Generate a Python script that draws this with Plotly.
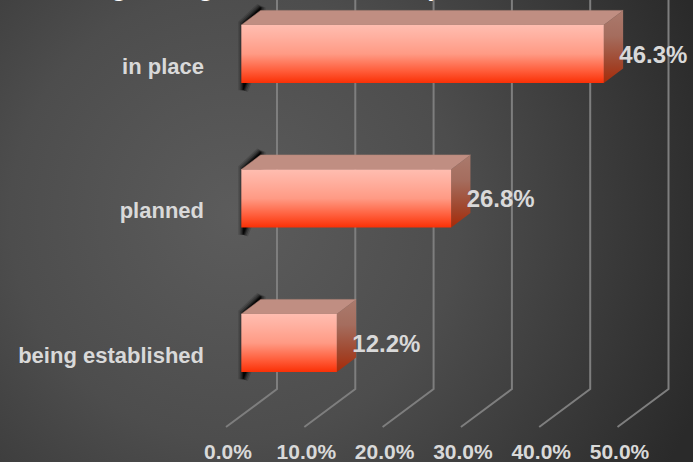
import base64
import plotly.graph_objects as go

# Chart data
categories = ["being established", "planned", "in place"]
values = [12.2, 26.8, 46.3]
value_labels = ["12.2%", "26.8%", "46.3%"]
axis_ticks = [0, 10, 20, 30, 40, 50]
axis_tick_labels = ["0.0%", "10.0%", "20.0%", "30.0%", "40.0%", "50.0%"]
chart_title = "g. rent growth and similar)"

W, H = 693, 462

# Page geometry of the pseudo-3D plot, in pixels
PX_PER_VALUE = 7.83
ZERO_PX = 241.3
PX_PER_CAT = 144.5
CAT0_PX = 343.0

# Pseudo-3D offsets, converted to axis units
BAR_HALF = 29 / PX_PER_CAT
BAR_DX = 19.3 / PX_PER_VALUE
BAR_DY = 14.6 / PX_PER_CAT
WALL_DX = 35.7 / PX_PER_VALUE
FLOOR_DX = -15.3 / PX_PER_VALUE
FLOOR_BACK_Y = (CAT0_PX - 389) / PX_PER_CAT
FLOOR_FRONT_Y = (CAT0_PX - 427) / PX_PER_CAT
TOP_Y = CAT0_PX / PX_PER_CAT
LABEL_DY = -2.5 / PX_PER_CAT

x_range = [-ZERO_PX / PX_PER_VALUE, (W - ZERO_PX) / PX_PER_VALUE]
y_range = [(CAT0_PX - H) / PX_PER_CAT, TOP_Y]

fig = go.Figure()


def polygon(xs, ys, **kw):
    fig.add_trace(go.Scatter(
        x=xs + xs[:1], y=ys + ys[:1], mode="lines", fill="toself",
        hoverinfo="skip", showlegend=False, **kw))


# Back wall and floor lines
for tick in axis_ticks:
    fig.add_trace(go.Scatter(
        x=[tick + WALL_DX, tick + WALL_DX, tick + FLOOR_DX],
        y=[TOP_Y, FLOOR_BACK_Y, FLOOR_FRONT_Y],
        mode="lines", line=dict(color="#7e7e7e", width=2),
        hoverinfo="skip", showlegend=False))

# Soft dark shadow down the hidden left side of each bar, built from widening strokes
for i, _ in enumerate(categories):
    lo, hi = i - BAR_HALF, i + BAR_HALF
    for width, alpha in [(10, 0.14), (7, 0.22), (4, 0.32), (2, 0.45)]:
        polygon([0.25, 0.25, BAR_DX, BAR_DX],
                [lo - 0.05, hi + 0.007, hi + BAR_DY + 0.02, lo + 2.5 * BAR_DY],
                line=dict(color=f"rgba(0,0,0,{alpha})", width=width),
                fillcolor=f"rgba(0,0,0,{alpha})")

# Bars: top face, side face, then the shaded front face
for i, v in enumerate(values):
    lo, hi = i - BAR_HALF, i + BAR_HALF
    polygon([0, v, v + BAR_DX, BAR_DX],
            [hi, hi, hi + BAR_DY, hi + BAR_DY],
            line=dict(color="#b58578", width=0.5), fillcolor="#c08e82")
    polygon([v, v + BAR_DX, v + BAR_DX, v],
            [hi, hi + BAR_DY, lo + BAR_DY, lo],
            line=dict(width=0),
            fillcolor="#a87568",
            fillgradient=dict(type="vertical", colorscale=[
                [0, "#a82a08"], [0.25, "#a0442a"], [0.65, "#a56d5e"], [1, "#aa7a6d"]]))
    polygon([0, v, v, 0], [lo, lo, hi, hi],
            line=dict(width=0),
            fillcolor="#ff9a85",
            fillgradient=dict(type="vertical", colorscale=[
                [0, "#fa3006"], [0.2, "#ff5b38"], [0.5, "#ff9a84"],
                [0.8, "#ffb0a0"], [1, "#ffbdb0"]]))

# Value labels beside the bars
fig.add_trace(go.Scatter(
    x=[v + 15.5 / PX_PER_VALUE for v in values],
    y=[i + LABEL_DY for i in range(len(values))],
    mode="text", text=value_labels, textposition="middle right",
    textfont=dict(family="Liberation Sans", size=24, color="#d9d9d9", weight="bold"),
    cliponaxis=False, hoverinfo="skip", showlegend=False))

# Invisible trace that keeps the offset label axes on the page
fig.add_trace(go.Scatter(x=[0], y=[0], xaxis="x2", yaxis="y2", mode="markers",
                         marker=dict(opacity=0), hoverinfo="skip", showlegend=False))

# Background: soft radial vignette
svg = f"""<svg xmlns="http://www.w3.org/2000/svg" width="{W}" height="{H}">
<defs><radialGradient id="g" gradientUnits="userSpaceOnUse" cx="235" cy="215" r="500">
<stop offset="0" stop-color="#5c5c5c"/><stop offset="0.45" stop-color="#4d4d4d"/>
<stop offset="1" stop-color="#2a2a2a"/></radialGradient></defs>
<rect width="{W}" height="{H}" fill="url(#g)"/></svg>"""
bg = "data:image/svg+xml;base64," + base64.b64encode(svg.encode()).decode()

tick_font = dict(family="Liberation Sans", size=21, color="#d9d9d9", weight="bold")
category_font = dict(family="Liberation Sans", size=22, color="#d9d9d9", weight="bold")

fig.update_layout(
    width=W, height=H,
    margin=dict(l=0, r=0, t=0, b=0),
    paper_bgcolor="#444444", plot_bgcolor="rgba(0,0,0,0)",
    showlegend=False,
    images=[dict(source=bg, xref="paper", yref="paper", x=0, y=1, sizex=1, sizey=1,
                 xanchor="left", yanchor="top", sizing="stretch", layer="below")],
    xaxis=dict(range=x_range, visible=False, fixedrange=True),
    yaxis=dict(range=y_range, visible=False, fixedrange=True),
    # Tick labels sit on offset axes, because the floor is drawn ahead of the bars
    xaxis2=dict(
        range=[(0 - 228) / PX_PER_VALUE, (W - 228) / PX_PER_VALUE],
        overlaying="x", anchor="free", position=(H - 437) / H, side="bottom",
        tickmode="array", tickvals=axis_ticks, ticktext=axis_tick_labels,
        tickfont=tick_font, showgrid=False, showline=False, zeroline=False,
        ticks="", automargin=False, fixedrange=True),
    yaxis2=dict(
        range=[(CAT0_PX + 12 - H) / PX_PER_CAT, (CAT0_PX + 12) / PX_PER_CAT],
        overlaying="y", anchor="free", position=204 / W, side="left",
        tickmode="array", tickvals=list(range(len(categories))), ticktext=categories,
        tickfont=category_font, showgrid=False, showline=False, zeroline=False,
        ticks="", automargin=False, fixedrange=True),
    annotations=[dict(
        text=chart_title, xref="paper", yref="paper", x=439 / W, y=(H - 4.5) / H,
        xanchor="right", yanchor="bottom", showarrow=False,
        font=dict(family="Liberation Sans", size=26, color="#ffffff", weight="bold"))],
)

fig.write_html("out.html", config=dict(displayModeBar=False))
